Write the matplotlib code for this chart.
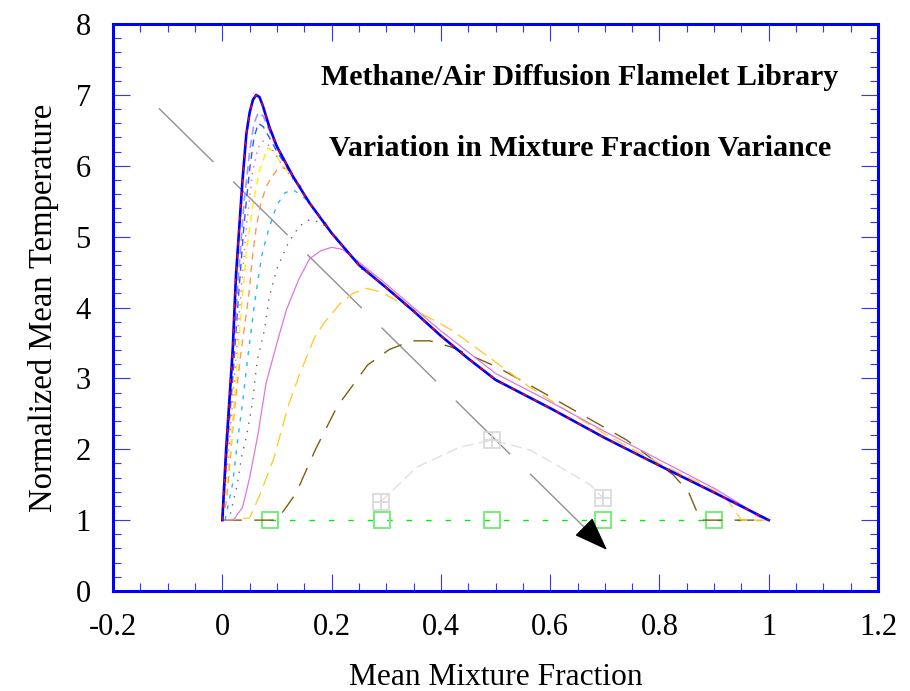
import matplotlib
matplotlib.use("Agg")
import matplotlib.pyplot as plt
from matplotlib.ticker import MultipleLocator

plt.rcParams['font.family'] = ['Liberation Serif', 'DejaVu Serif']

# zero-variance flamelet (mean temperature vs mean mixture fraction)
z_main = [0.0, 0.007, 0.019, 0.025, 0.037, 0.044, 0.05, 0.056, 0.062, 0.068, 0.074,
          0.086, 0.1, 0.13, 0.16, 0.2, 0.25, 0.3, 0.35, 0.4, 0.45, 0.5, 0.6, 0.7,
          0.8, 0.9, 1.0]
T_main = [1.0, 2.0, 3.4, 4.45, 5.8, 6.45, 6.75, 6.93, 7.0, 6.97, 6.85,
          6.55, 6.27, 5.84, 5.47, 5.05, 4.6, 4.28, 3.95, 3.6, 3.28, 2.98, 2.58, 2.16,
          1.77, 1.39, 1.0]

# small variance curves (rising part and peak)
z_lav = [0.0, 0.01, 0.02, 0.03, 0.04, 0.05, 0.058, 0.066, 0.075, 0.086, 0.1]
T_lav = [1.0, 2.2, 3.4, 4.5, 5.5, 6.2, 6.6, 6.75, 6.7, 6.5, 6.25]

z_bdash = [0.0, 0.008, 0.02, 0.03, 0.04, 0.05, 0.058, 0.066, 0.075, 0.086, 0.1, 0.13]
T_bdash = [1.0, 1.9, 3.1, 4.2, 5.2, 5.95, 6.4, 6.6, 6.55, 6.4, 6.2, 5.84]

z_pink = [0.0, 0.012, 0.025, 0.035, 0.045, 0.055, 0.065, 0.075, 0.09, 0.11, 0.13]
T_pink = [1.0, 2.0, 3.3, 4.3, 5.2, 5.9, 6.25, 6.35, 6.25, 6.0, 5.8]

z_yel = [0.0, 0.015, 0.028, 0.035, 0.044, 0.055, 0.068, 0.083, 0.095, 0.11, 0.13]
T_yel = [1.0, 2.0, 3.3, 4.0, 4.77, 5.4, 5.94, 6.25, 6.2, 6.0, 5.82]

z_sal = [0.0, 0.007, 0.015, 0.022, 0.033, 0.044, 0.05, 0.055, 0.062, 0.07, 0.08,
         0.09, 0.1, 0.11, 0.12, 0.13, 0.145]
T_sal = [1.0, 1.24, 1.9, 2.55, 3.3, 3.92, 4.29, 4.71, 5.13, 5.45, 5.7,
         5.84, 5.94, 5.97, 5.95, 5.85, 5.7]

z_cyan = [0.005, 0.019, 0.028, 0.037, 0.046, 0.059, 0.068, 0.074, 0.086, 0.1,
          0.115, 0.13, 0.15, 0.17, 0.2]
T_cyan = [1.0, 1.52, 2.13, 2.65, 3.26, 4.06, 4.53, 4.8, 5.13, 5.45,
          5.62, 5.66, 5.55, 5.38, 5.08]

z_gdot = [0.005, 0.015, 0.028, 0.035, 0.044, 0.055, 0.064, 0.077, 0.086, 0.1,
          0.12, 0.141, 0.16, 0.18, 0.2, 0.23, 0.26]
T_gdot = [1.0, 1.1, 1.52, 1.89, 2.17, 2.65, 3.26, 3.68, 4.15, 4.55,
          4.9, 5.15, 5.24, 5.2, 5.07, 4.78, 4.5]

# larger variance curves
z_orch = [0.0, 0.02, 0.037, 0.05, 0.065, 0.08, 0.1, 0.117, 0.14, 0.16, 0.18, 0.2,
          0.22, 0.25, 0.3, 0.4, 0.5, 0.6, 0.7, 0.8, 0.9, 0.96, 0.98, 1.0]
T_orch = [1.0, 1.0, 1.18, 1.6, 2.2, 2.93, 3.5, 3.96, 4.4, 4.69, 4.8, 4.85,
          4.82, 4.64, 4.33, 3.67, 3.07, 2.67, 2.25, 1.85, 1.45, 1.17, 1.05, 1.0]

z_gold = [0.0, 0.05, 0.07, 0.095, 0.12, 0.141, 0.169, 0.187, 0.215, 0.239, 0.264,
          0.29, 0.33, 0.395, 0.42, 0.495, 0.558, 0.65, 0.71, 0.8, 0.87, 0.9,
          0.925, 0.95, 1.0]
T_gold = [1.0, 1.03, 1.38, 1.89, 2.6, 3.05, 3.58, 3.79, 4.05, 4.2, 4.27,
          4.22, 4.05, 3.79, 3.68, 3.26, 2.9, 2.45, 2.17, 1.8, 1.54, 1.42,
          1.28, 1.0, 1.0]

z_olive = [0.0, 0.045, 0.1, 0.135, 0.17, 0.21, 0.266, 0.306, 0.347, 0.38, 0.42,
           0.503, 0.58, 0.66, 0.74, 0.825, 0.853, 0.875, 1.0]
T_olive = [1.0, 1.0, 1.0, 1.38, 1.99, 2.6, 3.19, 3.41, 3.53, 3.53, 3.44,
           3.16, 2.83, 2.48, 2.13, 1.64, 1.40, 1.0, 1.0]

z_lgray = [0.29, 0.356, 0.435, 0.494, 0.563, 0.618, 0.673, 0.697]
T_lgray = [1.26, 1.75, 2.03, 2.13, 1.99, 1.75, 1.5, 1.31]
lgray_marks = [0, 3, 7]

z_green = [0.088, 0.292, 0.494, 0.697, 0.899, 1.0]
T_green = [1.0, 1.0, 1.0, 1.0, 1.0, 1.0]
green_marks = [0, 1, 2, 3, 4]

# increasing variance arrow
arrow_start = (-0.116, 6.81)
arrow_base = (0.665, 0.88)
arrow_tip = (0.704, 0.58)

xtick_vals = [-0.2, 0, 0.2, 0.4, 0.6, 0.8, 1, 1.2]
xtick_labels = ['-0.2', '0', '0.2', '0.4', '0.6', '0.8', '1', '1.2']
ytick_vals = [0, 1, 2, 3, 4, 5, 6, 7, 8]

fig = plt.figure(figsize=(9.1, 6.91), dpi=100)
ax = fig.add_axes([0.1242, 0.1447, 0.8407, 0.8205])

# arrow
ax.plot([arrow_start[0], arrow_base[0]], [arrow_start[1], arrow_base[1]],
        color='#909090', lw=1, linestyle=(0, (55, 20)))
ax.annotate('', xy=arrow_tip, xytext=arrow_base,
            arrowprops=dict(arrowstyle='-|>,head_length=0.9,head_width=0.33',
                            color='black', lw=1, mutation_scale=24,
                            shrinkA=0, shrinkB=0))

# curves
ax.plot(z_green, T_green, color='#00ee00', lw=1, linestyle=(0, (4, 10)))
ax.plot(z_green, T_green, linestyle='none', marker='s', markersize=12,
        markerfacecolor='none', markeredgecolor='#77ee77', markeredgewidth=1.4,
        markevery=green_marks)
ax.plot(z_lgray, T_lgray, color='#e0e0e0', lw=1, linestyle=(0, (8, 4)))
ax.plot(z_lgray, T_lgray, linestyle='none', marker='s', markersize=12,
        markerfacecolor='none', markeredgecolor='#d8d8d8', markeredgewidth=1.2,
        markevery=lgray_marks)
ax.plot(z_lgray, T_lgray, linestyle='none', marker='+', markersize=12,
        markeredgecolor='#d8d8d8', markeredgewidth=1.2, markevery=lgray_marks)
ax.plot(z_olive, T_olive, color='#7a6010', lw=1, linestyle=(0, (14, 9)))
ax.plot(z_gold, T_gold, color='#ffcc33', lw=1, linestyle=(0, (10, 5)))
ax.plot(z_orch, T_orch, color='#dd77dd', lw=0.9)
ax.plot(z_gdot, T_gdot, color='#666666', lw=1, linestyle=(0, (1, 5)))
ax.plot(z_cyan, T_cyan, color='#22bbff', lw=1, linestyle=(0, (3, 5)))
ax.plot(z_sal, T_sal, color='#ff9955', lw=1, linestyle=(0, (5, 4)))
ax.plot(z_yel, T_yel, color='#ffee00', lw=1, linestyle=(0, (5, 4)))
ax.plot(z_pink, T_pink, color='#ff55bb', lw=1, linestyle=(0, (1, 4)))
ax.plot(z_bdash, T_bdash, color='#3355ff', lw=1, linestyle=(0, (5, 4)))
ax.plot(z_lav, T_lav, color='#9999ff', lw=1.2, linestyle=(0, (5, 3)))
ax.plot(z_main, T_main, color='#0000ff', lw=1.9)
ax.plot(z_main, T_main, color='#ff0000', lw=1.0, linestyle=(0, (3, 6)))

ax.set_xlim(-0.2, 1.2)
ax.set_ylim(0, 8)
ax.set_xticks(xtick_vals)
ax.set_xticklabels(xtick_labels)
ax.set_yticks(ytick_vals)
ax.xaxis.set_minor_locator(MultipleLocator(0.05))
ax.yaxis.set_minor_locator(MultipleLocator(0.2))
ax.tick_params(which='both', direction='in', top=True, right=True,
               color='#3333ff', width=0.8, labelsize=22, pad=16)
ax.tick_params(which='major', length=12)
ax.tick_params(which='minor', length=6)
for s in ax.spines.values():
    s.set_color('#0000ff')
    s.set_linewidth(2.2)

ax.set_xlabel('Mean Mixture Fraction', fontsize=22.7, labelpad=15)
ax.set_ylabel('Normalized Mean Temperature', fontsize=23.5, labelpad=12)

ax.text(0.61, 0.905, 'Methane/Air Diffusion Flamelet Library', transform=ax.transAxes,
        ha='center', va='center', fontsize=21.5, fontweight='bold')
ax.text(0.61, 0.781, 'Variation in Mixture Fraction Variance', transform=ax.transAxes,
        ha='center', va='center', fontsize=21.5, fontweight='bold')

fig.savefig('out.png', dpi=100)
